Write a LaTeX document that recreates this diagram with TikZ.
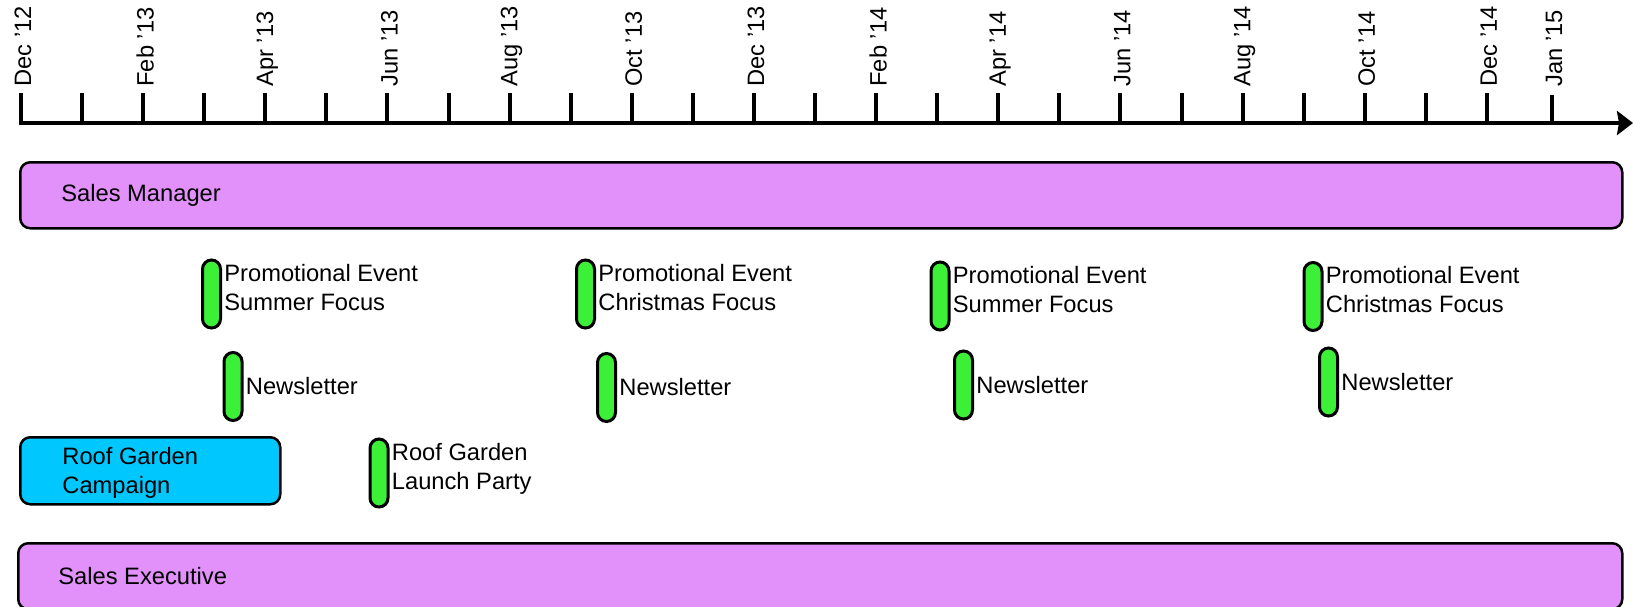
\documentclass[tikz,border=0pt]{standalone}
\usepackage{fontspec}
\setmainfont{Liberation Sans}
\usetikzlibrary{arrows.meta,positioning}

\definecolor{lanefill}{RGB}{226,145,251}
\definecolor{eventfill}{RGB}{60,240,55}
\definecolor{campaignfill}{RGB}{0,200,255}

\begin{document}
\begin{tikzpicture}[x=0.5pt, y=-0.5pt,
	txt/.style={font=\fontsize{11.85}{14.5}\selectfont, inner sep=0pt, align=left},
	lane/.style={draw, line width=1.25pt, fill=lanefill, rounded corners=5pt,
		minimum height=33pt, inner sep=0pt, anchor=north west},
	campaign/.style={draw, line width=1.25pt, fill=campaignfill, rounded corners=5pt,
		minimum width=130pt, minimum height=33.5pt, inner sep=0pt, anchor=north west},
	pill/.style={draw, line width=1.5pt, fill=eventfill, rounded corners=4.5pt,
		minimum width=9pt, minimum height=34pt, inner sep=0pt},
]

	% frame
	\useasboundingbox (0,0) rectangle (1633,606);
	\clip (0,0) rectangle (1633,606);

	% parameters
	\def\xstart{21}
	\def\monthw{61.08}
	\def\axisy{123}
	\def\ticktop{93}

	% time axis
	\coordinate (start) at (19,\axisy);
	\coordinate (end) at (1633,\axisy);
	\draw[line width=2.2pt, -{Stealth[length=8pt,width=12pt,inset=1pt]}] (start) -- (end);

	% ticks
	\foreach \i in {0,...,24} {
		\draw[line width=2pt] ({\xstart+\monthw*\i},\ticktop) -- ({\xstart+\monthw*\i},\axisy);
	}
	\draw[line width=2pt] (1552,95) -- (1552,\axisy);

	% month labels
	\foreach \i/\m in {0/Dec '12, 2/Feb '13, 4/Apr '13, 6/Jun '13, 8/Aug '13, 10/Oct '13,
		12/Dec '13, 14/Feb '14, 16/Apr '14, 18/Jun '14, 20/Aug '14, 22/Oct '14, 24/Dec '14} {
		\node[txt, rotate=90, anchor=west] (m\i) at ({\xstart+\monthw*\i+2},87) {\m};
	}
	\node[txt, rotate=90, anchor=west] (m25) at (1554,87) {Jan '15};

	% lanes
	\node[lane, minimum width=801pt] (manager) at (19,161) {};
	\node[txt, anchor=west] (managerlbl) at ([xshift=21pt]manager.west) {Sales Manager};

	\node[lane, minimum width=802pt] (executive) at (17,542) {};
	\node[txt, anchor=west] (executivelbl) at ([xshift=20.5pt]executive.west) {Sales Executive};

	% promotional events
	\foreach \n/\x/\y/\focus in {pe1/211.5/294/Summer, pe2/585.5/294/Christmas,
		pe3/940/296/Summer, pe4/1313/296.5/Christmas} {
		\node[pill] (\n) at (\x,\y) {};
		\node[txt, anchor=north west] (lbl\n) at ([xshift=1pt,yshift=-2.5pt]\n.north east)
			{Promotional Event\\\focus\ Focus};
	}

	% newsletters
	\foreach \n/\x/\y in {nl1/233/386.5, nl2/606.5/387.5, nl3/963.5/385, nl4/1328.5/382} {
		\node[pill] (\n) at (\x,\y) {};
		\node[txt, anchor=west] (lbl\n) at ([xshift=1pt]\n.east) {Newsletter};
	}

	% roof garden
	\node[campaign] (campaign) at (19,436) {};
	\node[txt, anchor=west] (campaignlbl) at ([xshift=21.5pt,yshift=-1pt]campaign.west)
		{Roof Garden\\Campaign};

	\node[pill] (launch) at (379,473) {};
	\node[txt, anchor=north west] (lbllaunch) at ([xshift=1pt,yshift=-2.5pt]launch.north east)
		{Roof Garden\\Launch Party};

\end{tikzpicture}
\end{document}
